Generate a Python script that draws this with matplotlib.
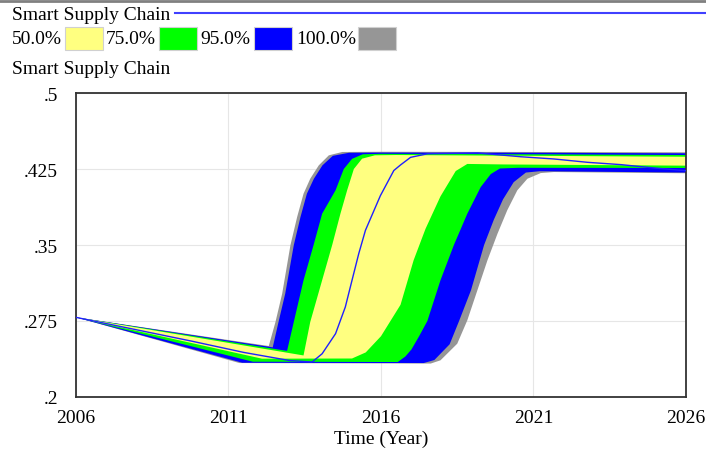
import matplotlib
matplotlib.use("Agg")
import matplotlib.pyplot as plt
import numpy as np
from matplotlib.lines import Line2D
from matplotlib.patches import Rectangle

# ---------------- data ----------------
legend_labels = ["50.0%", "75.0%", "95.0%", "100.0%"]
band_colors = ["#FFFF80", "#00FF00", "#0000FF", "#969696"]

# upper envelopes (max side)
years_u100 = [2006, 2012.32, 2012.54, 2012.76, 2013.03, 2013.25, 2013.46, 2013.68, 2013.96, 2014.29, 2014.73, 2016.0, 2021.0, 2026.0]
u100 = [0.2786, 0.2503, 0.274, 0.302, 0.3497, 0.3776, 0.4006, 0.4154, 0.4286, 0.4385, 0.4418, 0.4420, 0.4418, 0.4415]

years_u95 = [2006, 2012.45, 2012.64, 2012.86, 2013.14, 2013.36, 2013.57, 2013.80, 2014.08, 2014.42, 2014.95, 2016.0, 2021.0, 2026.0]
u95 = [0.2786, 0.2490, 0.274, 0.302, 0.3497, 0.3776, 0.4006, 0.4154, 0.4286, 0.4380, 0.4410, 0.4412, 0.4410, 0.4405]

years_u75 = [2006, 2012.92, 2013.14, 2013.46, 2013.79, 2014.07, 2014.51, 2014.78, 2015.05, 2015.40, 2016.0, 2021.0, 2026.0]
u75 = [0.2786, 0.2455, 0.274, 0.3152, 0.3500, 0.3809, 0.4040, 0.4250, 0.4350, 0.4395, 0.4400, 0.4395, 0.4388]

years_u50 = [2006, 2013.46, 2013.68, 2014.07, 2014.40, 2014.67, 2014.89, 2015.11, 2015.38, 2015.80, 2016.5, 2021.0, 2026.0]
u50 = [0.2786, 0.2410, 0.274, 0.3152, 0.3500, 0.3809, 0.4040, 0.4250, 0.4352, 0.4385, 0.4388, 0.4380, 0.4371]

# lower envelopes (min side)
years_l100 = [2006, 2011.36, 2017.63, 2017.95, 2018.50, 2018.83, 2019.16, 2019.49, 2019.82, 2020.14, 2020.47, 2020.80, 2021.24, 2021.67, 2026.0]
l100 = [0.2786, 0.2335, 0.2330, 0.2362, 0.2526, 0.2757, 0.3053, 0.3349, 0.3612, 0.3843, 0.4040, 0.4154, 0.4210, 0.4220, 0.4208]

years_l95 = [2006, 2011.45, 2017.40, 2017.75, 2018.25, 2018.56, 2018.95, 2019.38, 2019.70, 2020.00, 2020.35, 2020.75, 2021.20, 2026.0]
l95 = [0.2786, 0.2338, 0.2335, 0.2365, 0.2520, 0.2750, 0.3053, 0.3500, 0.3750, 0.3950, 0.4120, 0.4215, 0.4228, 0.4215]

years_l75 = [2006, 2011.80, 2016.55, 2016.80, 2017.00, 2017.25, 2017.52, 2017.95, 2018.39, 2018.83, 2019.27, 2019.60, 2019.90, 2020.50, 2026.0]
l75 = [0.2786, 0.2348, 0.2345, 0.2400, 0.2470, 0.2600, 0.2750, 0.3152, 0.3500, 0.3809, 0.4072, 0.4200, 0.4255, 0.4262, 0.4260]

years_l50 = [2006, 2012.10, 2015.05, 2015.50, 2016.00, 2016.64, 2017.07, 2017.46, 2017.95, 2018.45, 2018.83, 2020.0, 2026.0]
l50 = [0.2786, 0.2378, 0.2380, 0.2440, 0.2600, 0.2910, 0.3350, 0.3660, 0.3980, 0.4230, 0.4300, 0.4295, 0.4283]

# base run
years_base = [2006, 2009.78, 2011.5, 2013.0, 2013.74, 2014.07, 2014.51, 2014.83, 2015.05, 2015.27, 2015.49, 2015.98, 2016.42, 2016.64, 2016.97, 2017.52, 2019.17, 2020.58, 2021.67, 2022.77, 2023.87, 2024.96, 2026.0]
base = [0.2786, 0.2552, 0.2440, 0.2360, 0.2345, 0.2427, 0.2625, 0.2888, 0.3152, 0.3414, 0.3645, 0.3987, 0.4235, 0.4290, 0.4365, 0.4400, 0.4408, 0.4371, 0.4349, 0.4316, 0.4293, 0.4260, 0.4233]

x_ticks = [2006, 2011, 2016, 2021, 2026]
y_ticks = [0.2, 0.275, 0.35, 0.425, 0.5]
y_tick_labels = [".2", ".275", ".35", ".425", ".5"]
title = "Smart Supply Chain"
x_label = "Time (Year)"

# ---------------- figure ----------------
W, H = 706, 452
plt.rcParams['font.family'] = ['Liberation Serif', 'DejaVu Serif']
fig = plt.figure(figsize=(W / 100, H / 100), dpi=100)
ax = fig.add_axes([76 / W, 1 - 398 / H, (686 - 76) / W, (398 - 94) / H])

bands = [
    (years_u100, u100, years_l100, l100, band_colors[3]),
    (years_u95, u95, years_l95, l95, band_colors[2]),
    (years_u75, u75, years_l75, l75, band_colors[1]),
    (years_u50, u50, years_l50, l50, band_colors[0]),
]
for yu, vu, yl, vl, c in bands:
    xs = np.concatenate([yu, yl[::-1]])
    ys = np.concatenate([vu, vl[::-1]])
    ax.fill(xs, ys, color=c, lw=0, zorder=2)

ax.plot(years_base, base, color="#2020ff", lw=1.0, zorder=3)

ax.set_xlim(2006, 2026)
ax.set_ylim(0.2, 0.5)
ax.set_xticks(x_ticks)
ax.set_xticklabels([str(t) for t in x_ticks])
ax.set_yticks(y_ticks)
ax.set_yticklabels(y_tick_labels)
ax.tick_params(axis='both', length=0, labelsize=14, colors='black')
ax.tick_params(axis='y', pad=13)
ax.tick_params(axis='x', pad=9)
ax.grid(True, color="#e6e6e6", lw=0.8, zorder=0)
ax.set_axisbelow(True)
for s in ax.spines.values():
    s.set_color("#333333")
    s.set_linewidth(1.3)
ax.set_xlabel(x_label, fontsize=14, labelpad=2)

# ---------------- header / legend ----------------
fig.add_artist(Line2D([0, 1], [1 - 1.5 / H, 1 - 1.5 / H], color="#808080", lw=2))
fig.text(12 / W, 1 - 15 / H, title, fontsize=14, va='center', ha='left')
fig.add_artist(Line2D([175 / W, 1], [1 - 14 / H, 1 - 14 / H], color="#4040ff", lw=1.5))

text_x = [12, 106, 200, 296]
box_x = [65, 159, 254, 358]
for lab, tx, bx, c in zip(legend_labels, text_x, box_x, band_colors):
    fig.text(tx / W, 1 - 40 / H, lab, fontsize=14, va='center', ha='left')
    fig.add_artist(Rectangle((bx / W, 1 - 51 / H), 38 / W, 23 / H,
                             transform=fig.transFigure, facecolor=c,
                             edgecolor="#d0d0d0", lw=0.8))

fig.text(12 / W, 1 - 70 / H, title, fontsize=14, va='center', ha='left')

fig.savefig("out.png", dpi=100)
